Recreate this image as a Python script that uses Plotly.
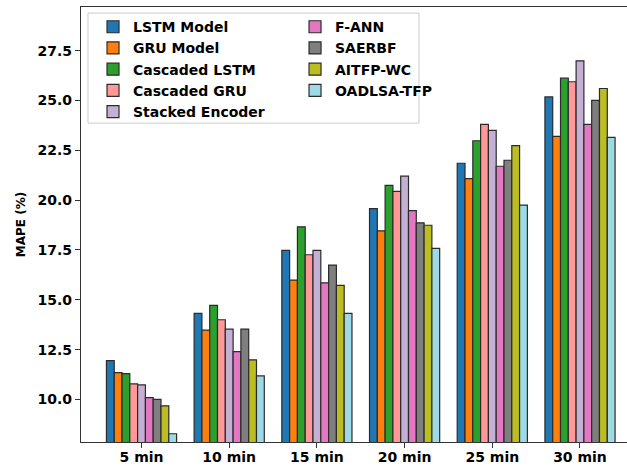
import plotly.graph_objects as go

categories = ["5 min", "10 min", "15 min", "20 min", "25 min", "30 min"]
models = ["LSTM Model", "GRU Model", "Cascaded LSTM", "Cascaded GRU", "Stacked Encoder",
          "F-ANN", "SAERBF", "AITFP-WC", "OADLSA-TFP"]

lstm = [11.95, 14.32, 17.48, 19.57, 21.85, 25.18]
gru = [11.35, 13.48, 15.99, 18.46, 21.08, 23.20]
cascaded_lstm = [11.30, 14.72, 18.66, 20.74, 22.98, 26.12]
cascaded_gru = [10.78, 14.00, 17.26, 20.44, 23.80, 25.94]
stacked_encoder = [10.73, 13.53, 17.48, 21.20, 23.50, 26.99]
f_ann = [10.09, 12.40, 15.85, 19.47, 21.70, 23.80]
saerbf = [10.00, 13.53, 16.74, 18.86, 22.00, 25.00]
aitfp_wc = [9.68, 11.99, 15.72, 18.74, 22.73, 25.60]
oadlsa_tfp = [8.28, 11.18, 14.32, 17.58, 19.75, 23.15]

series = [lstm, gru, cascaded_lstm, cascaded_gru, stacked_encoder, f_ann, saerbf, aitfp_wc, oadlsa_tfp]
colors = ["#1f77b4", "#ff7f0e", "#2ca02c", "#ff9896", "#c5b0d5",
          "#e377c2", "#7f7f7f", "#bcbd22", "#9edae5"]

all_vals = [v for s in series for v in s]
ymin = min(all_vals) * 0.95
ymax = max(all_vals) * 1.1

x_idx = list(range(len(categories)))

fig = go.Figure()
for i, (name, vals, col) in enumerate(zip(models, series, colors)):
    fig.add_trace(go.Bar(
        x=x_idx, y=vals, name=name,
        marker=dict(color=col, line=dict(color="#2b2b2b", width=1.2)),
        legend="legend" if i < 5 else "legend2",
    ))

legend_font = dict(family="DejaVu Sans", size=14, color="black", weight="bold")
tick_font = dict(family="DejaVu Sans", size=14, color="black", weight="bold")

fig.update_layout(
    width=627, height=468,
    margin=dict(l=81, r=0, t=7, b=26, autoexpand=False),
    paper_bgcolor="white", plot_bgcolor="white",
    barmode="group", bargap=0.2, bargroupgap=0.0,
    showlegend=True,
    legend=dict(x=0.022, y=0.9905, xanchor="left", yanchor="top",
                bgcolor="rgba(0,0,0,0)", font=legend_font,
                tracegroupgap=0, itemwidth=30, traceorder="normal"),
    legend2=dict(x=0.392, y=0.9905, xanchor="left", yanchor="top",
                 bgcolor="rgba(0,0,0,0)", font=legend_font,
                 tracegroupgap=0, itemwidth=30, traceorder="normal"),
    xaxis=dict(
        range=[-0.69, 5.536], tickmode="array", tickvals=x_idx, ticktext=categories,
        showline=True, linecolor="#333333", linewidth=1.3, mirror=True,
        ticks="outside", ticklen=5, tickcolor="#333333", automargin=False,
        ticklabelstandoff=-3,
        tickfont=tick_font, showgrid=False, zeroline=False,
    ),
    yaxis=dict(
        range=[ymin, ymax], tickmode="array",
        tickvals=[10.0, 12.5, 15.0, 17.5, 20.0, 22.5, 25.0, 27.5],
        tickformat=".1f", automargin=False,
        showline=True, linecolor="#333333", linewidth=1.3,
        ticks="outside", ticklen=5, tickcolor="#333333",
        tickfont=tick_font, showgrid=False, zeroline=False,
        title=dict(text="MAPE (%)", font=dict(family="DejaVu Sans", size=12, color="black", weight="bold"),
                   standoff=9),
    ),
    shapes=[dict(type="rect", xref="paper", yref="paper",
                 x0=0.0128, x1=0.619, y0=0.733, y1=0.986,
                 line=dict(color="#cccccc", width=1), fillcolor="rgba(255,255,255,0.8)",
                 layer="above")],
)

fig.write_html("out.html", config={"displayModeBar": False},
               post_script="document.body.style.margin='0px';document.body.style.overflow='hidden';")
